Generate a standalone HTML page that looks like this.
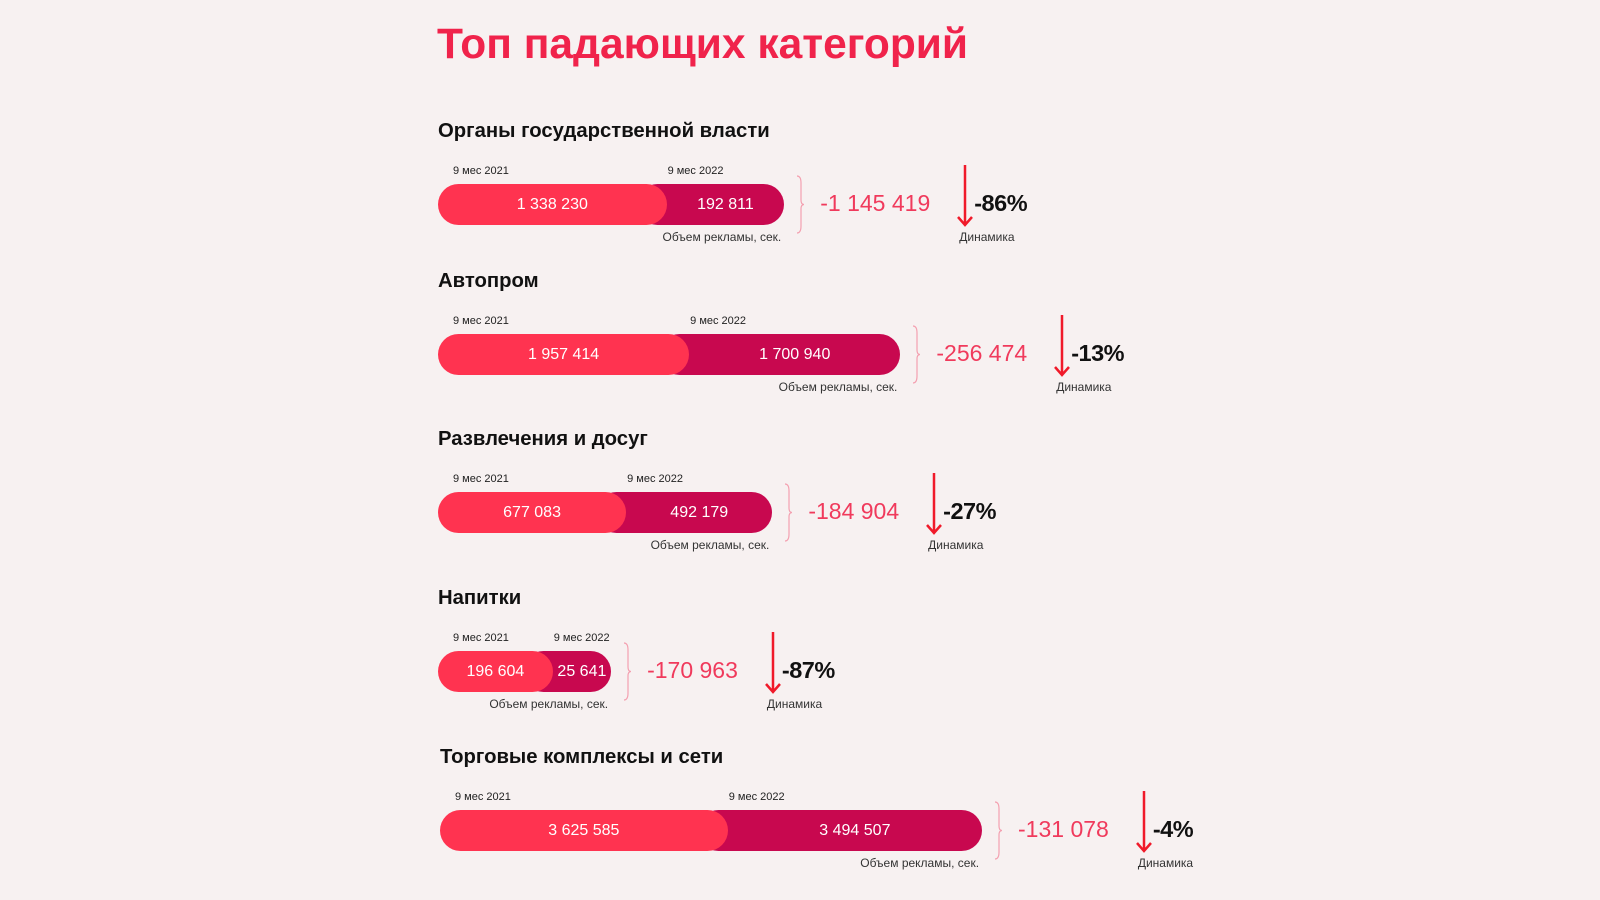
<!DOCTYPE html>
<html><head><meta charset="utf-8">
<style>
body{margin:0;width:1600px;height:900px;background:#f7f1f1;position:relative;overflow:hidden;font-family:"Liberation Sans","Noto Sans CJK SC",sans-serif}
.abs{position:absolute;white-space:nowrap}
h1{position:absolute;left:437px;top:21px;margin:0;font-size:42.5px;font-weight:bold;color:#f0234b}
.hdr{font-size:20.3px;font-weight:bold;color:#111}
.sm{font-size:11px;color:#222}
.bar{height:41px;border-radius:21px}
.bt{font-size:16px;color:#fff;line-height:41px;text-align:center}
.delta{font-size:23px;color:#f03a5c}
.pct{font-size:23.5px;font-weight:bold;color:#111;letter-spacing:-0.5px}
.lbl{font-size:12px;color:#333}
</style></head>
<body>
<h1>Топ падающих категорий</h1>
<div id="root"></div>
<script>
const categories=["Органы государственной власти","Автопром","Развлечения и досуг","Напитки","Торговые комплексы и сети"];
const values2021=[1338230,1957414,677083,196604,3625585];
const values2022=[192811,1700940,492179,25641,3494507];
const headerTops=[120,270,428,587,746];
const fmt=v=>String(Math.abs(v)).replace(/\B(?=(\d{3})+(?!\d))/g," ");
const wLight=v=>Math.max(60,1.02*(112+134*(Math.log10(v)-5.29)));
const wDark=(v,v0,wl)=>Math.max(40,wl*(0.45+0.45*v/v0));
const root=document.getElementById('root');
function mk(cls,txt,style,name){const e=document.createElement('div');e.className='abs '+cls;if(txt!=null)e.textContent=txt;Object.assign(e.style,style);


root.appendChild(e);return e;}
categories.forEach((c,i)=>{
 const top=headerTops[i];const x0=i==4?440:438;
 mk('hdr',c,{left:x0+'px',top:top+'px'},'category-title');
 const barTop=top+64;
 const wl=wLight(values2021[i]),wd=wDark(values2022[i],values2021[i],wl);
 const split=x0+wl,end=split+wd;
 mk('sm','9 мес 2021',{left:(x0+15)+'px',top:(barTop-19)+'px'},'label-2021');
 mk('sm','9 мес 2022',{left:(split+1)+'px',top:(barTop-19)+'px'},'label-2022');
 mk('bar',null,{left:(split-30)+'px',top:barTop+'px',width:(end-split+30)+'px',background:'#c8084f'},'bar-2022');
 mk('bar',null,{left:x0+'px',top:barTop+'px',width:wl+'px',background:'#ff3350'},'bar-2021');
 mk('bt',fmt(values2021[i]),{left:x0+'px',top:barTop+'px',width:wl+'px'},'value-2021');
 mk('bt',fmt(values2022[i]),{left:split+'px',top:barTop+'px',width:wd+'px'},'value-2022');
 mk('lbl','Объем рекламы, сек.',{right:(1600-end+3)+'px',top:(barTop+46)+'px'},'volume-label');
 const br=mk('',null,{left:(end+12)+'px',top:(barTop-9)+'px',width:'10px',height:'59px'},'bracket');
 br.innerHTML='<svg width="10" height="59"><path d="M1 1 Q5 1 5 8 L5 25 Q5 29.5 8 29.5 Q5 29.5 5 34 L5 51 Q5 58 1 58" fill="none" stroke="#f4a0b0" stroke-width="1.2"/></svg>';
 const d=values2022[i]-values2021[i];
 const dt=mk('delta','-'+fmt(d),{left:(end+36)+'px',top:(barTop+6)+'px'},'delta-value');
 const dw=dt.getBoundingClientRect().width;
 const ax=end+36+dw+35;
 const ar=mk('',null,{left:(ax-8)+'px',top:(barTop-19)+'px',width:'16px',height:'62px'},'down-arrow');
 ar.innerHTML='<svg width="16" height="62"><path d="M8 0 L8 60 M1 52 L8 60 L15 52" fill="none" stroke="#f01a2a" stroke-width="2.5"/></svg>';
 const pct=Math.round(d/values2021[i]*100);
 mk('pct',pct+'%',{left:(ax+9)+'px',top:(barTop+6)+'px'},'percent-change');
 mk('lbl','Динамика',{left:(ax-6)+'px',top:(barTop+46)+'px'},'dynamics-label');
});
</script>
</body></html>
